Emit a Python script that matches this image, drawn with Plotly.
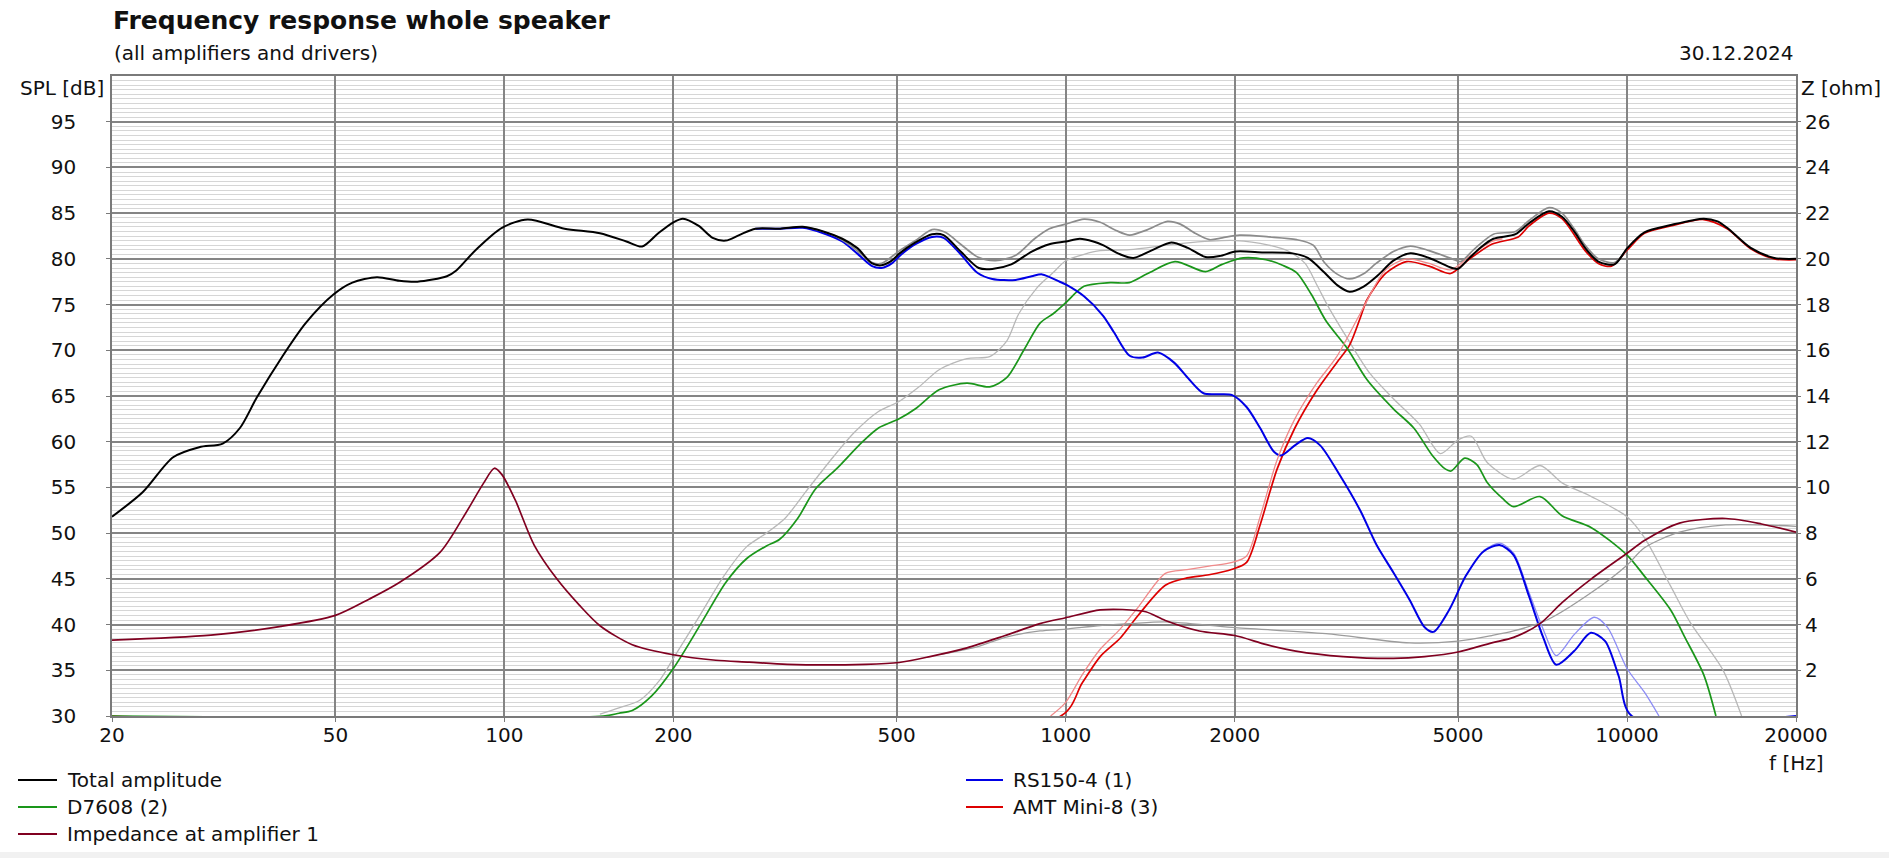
import math
import plotly.graph_objects as go

# ---------------- data ----------------
total_f = [20, 22.7, 25.7, 28.6, 31.5, 33.8, 36.2, 40.2, 44.3, 49.6, 53.6, 59.3, 65, 70, 79, 82, 89, 99,
           110, 128, 148, 165, 176, 188, 200, 208, 222, 235, 248, 262, 280, 310, 340, 370, 400, 425,
           452, 470, 490, 506, 540, 578, 606, 650, 700, 740, 800, 870, 935, 1000, 1060, 1120, 1165,
           1250, 1320, 1420, 1542, 1650, 1775, 1880, 2009, 2250, 2537, 2700, 2890, 3050, 3204, 3400,
           3600, 3835, 4112, 4440, 4880, 5000, 5220, 5500, 5780, 6330, 6690, 7260, 7660, 8050, 8420,
           8890, 9500, 10020, 10740, 11960, 13700, 14500, 15080, 16610, 18290, 20000]
total_db = [51.8, 54.5, 58.3, 59.4, 59.8, 61.5, 64.8, 69.3, 73.0, 76.1, 77.4, 78.0, 77.6, 77.5, 78.1,
            78.7, 81.0, 83.4, 84.3, 83.3, 82.8, 81.9, 81.35, 82.8, 84.0, 84.4, 83.6, 82.3, 82.0, 82.6,
            83.3, 83.3, 83.5, 83.0, 82.2, 81.2, 79.5, 79.3, 79.8, 80.6, 81.8, 82.7, 82.6, 80.8, 79.0,
            78.9, 79.4, 80.8, 81.6, 81.9, 82.2, 81.9, 81.5, 80.5, 80.1, 80.9, 81.8, 81.2, 80.2, 80.3,
            80.8, 80.7, 80.6, 80.1, 78.5, 77.1, 76.4, 77.0, 78.2, 79.8, 80.6, 80.1, 79.0, 78.9, 80.0,
            81.3, 82.2, 82.7, 83.9, 85.2, 84.6, 83.0, 81.2, 79.7, 79.4, 81.2, 82.9, 83.7, 84.4, 84.1,
            83.4, 81.2, 80.1, 80.0]

total_ref_f = [350, 385, 415, 452, 470, 506, 540, 578, 610, 650, 697, 750, 815, 880, 935, 1000, 1078,
               1152, 1230, 1300, 1400, 1518, 1600, 1700, 1803, 1900, 2042, 2300, 2578, 2760, 2890, 3050,
               3204, 3400, 3573, 3835, 4112, 4440, 4880, 5050, 5350, 5780, 6330, 6690, 7260, 7660, 8050,
               8420, 8890, 9500, 10020]
total_ref_db = [83.4, 82.6, 81.4, 79.6, 79.5, 80.9, 82.0, 83.2, 82.9, 81.6, 80.2, 79.8, 80.4, 82.2, 83.3,
                83.8, 84.35, 84.0, 83.1, 82.6, 83.2, 84.1, 83.8, 82.8, 82.1, 82.3, 82.6, 82.4, 82.1, 81.5,
                79.6, 78.3, 77.8, 78.4, 79.5, 80.8, 81.4, 80.9, 80.0, 79.7, 81.1, 82.7, 83.0, 84.2, 85.6,
                85.0, 83.3, 81.5, 80.0, 79.6, 81.2]

rs150_f = [280, 310, 340, 370, 400, 425, 452, 470, 490, 510, 540, 578, 606, 650, 697, 740, 814, 870, 908,
           976, 1000, 1078, 1165, 1218, 1300, 1370, 1460, 1560, 1660, 1760, 1880, 1980, 2100, 2220, 2350,
           2420, 2560, 2700, 2840, 3060, 3346, 3580, 3835, 4100, 4360, 4520, 4820, 5160, 5550, 5930, 6280,
           6690, 7090, 7480, 8050, 8620, 9140, 9660, 10200, 20000]
rs150_db = [83.3, 83.3, 83.4, 82.8, 81.9, 80.6, 79.2, 79.0, 79.5, 80.5, 81.6, 82.4, 82.3, 80.5, 78.45,
            77.8, 77.7, 78.1, 78.3, 77.5, 77.2, 75.9, 73.8, 72.0, 69.4, 69.2, 69.75, 68.65, 66.8, 65.3,
            65.2, 65.1, 63.8, 61.5, 58.9, 58.5, 59.6, 60.4, 59.6, 56.6, 52.5, 48.7, 45.7, 42.7, 39.7,
            39.2, 41.6, 45.3, 48.0, 48.7, 47.6, 43.1, 38.6, 35.6, 37.1, 39.1, 38.2, 34.4, 30.0, 30.0]

rs150_ref_f = [5550, 5930, 6280, 6690, 7090, 7480, 8050, 8740, 9230, 10000, 10740, 11400]
rs150_ref_db = [48.1, 48.9, 47.8, 43.5, 39.5, 36.6, 38.9, 40.8, 39.7, 35.2, 32.6, 30.0]

d7608_f = [20, 150, 160, 169, 183, 200, 224, 248, 270, 293, 309, 333, 358, 393, 433, 464, 505, 540, 596,
           667, 732, 785, 842, 901, 950, 1000, 1078, 1200, 1298, 1400, 1566, 1775, 1900, 2072, 2275, 2434,
           2578, 2740, 2910, 3175, 3440, 3835, 4170, 4500, 4750, 4860, 5140, 5400, 5640, 6000, 6280, 7000,
           7660, 8640, 10000, 10740, 11960, 12680, 13700, 14400]
d7608_db = [30.0, 30.0, 30.3, 30.6, 32.2, 35.2, 40.1, 44.6, 47.2, 48.6, 49.3, 51.6, 54.8, 57.2, 59.9,
            61.5, 62.5, 63.6, 65.7, 66.4, 66.0, 67.0, 70.0, 73.0, 74.0, 75.2, 77.0, 77.4, 77.4, 78.4,
            79.7, 78.6, 79.4, 80.1, 79.9, 79.3, 78.5, 76.1, 73.2, 70.2, 66.8, 63.6, 61.5, 58.5, 57.0,
            56.8, 58.2, 57.5, 55.5, 53.8, 52.9, 54.0, 51.9, 50.6, 47.6, 45.3, 41.6, 38.6, 34.5, 30.0]

d7608_ref_f = [148, 160, 174, 189, 200, 224, 246, 270, 293, 316, 345, 385, 420, 464, 505, 548, 596, 667,
               732, 785, 825, 888, 950, 1000, 1078, 1152, 1300, 1615, 2009, 2300, 2500, 2670, 2810, 2934,
               3175, 3480, 3835, 4270, 4650, 5000, 5280, 5640, 6280, 7000, 7660, 8640, 10000, 10740,
               11960, 13000, 14800, 16000]
d7608_ref_db = [30.2, 30.9, 31.7, 33.9, 36.3, 41.2, 45.3, 48.5, 50.0, 51.6, 54.6, 58.3, 61.0, 63.3, 64.4,
                66.0, 67.9, 69.1, 69.3, 71.0, 74.0, 76.8, 78.5, 79.8, 80.5, 80.9, 81.0, 81.7, 82.0, 81.5,
                80.8, 79.5, 77.0, 74.8, 71.3, 67.5, 64.7, 61.9, 58.7, 60.2, 60.6, 57.7, 55.9, 57.4, 55.5,
                54.0, 51.8, 49.5, 44.2, 40.1, 35.1, 30.0]

amt_f = [20, 980, 1070, 1152, 1250, 1350, 1505, 1645, 1800, 1980, 2100, 2220, 2380, 2560, 2800, 3040,
         3200, 3346, 3440, 3715, 4050, 4440, 4850, 5220, 5740, 6400, 6690, 7260, 7660, 8420, 8890, 9380,
         10020, 10740, 11960, 13700, 15080, 16610, 18290, 20000]
amt_db = [30.0, 30.0, 33.6, 36.5, 38.5, 41.1, 44.3, 45.1, 45.45, 46.05, 46.8, 50.9, 57.0, 61.5, 65.6,
          68.65, 70.5, 73.5, 75.5, 78.4, 79.7, 79.2, 78.4, 79.9, 81.6, 82.4, 83.6, 85.0, 84.4, 80.9,
          79.5, 79.2, 81.0, 82.8, 83.6, 84.3, 83.3, 81.1, 80.0, 79.9]

amt_ref_f = [940, 1000, 1070, 1152, 1250, 1350, 1505, 1645, 1800, 1980, 2100, 2220, 2380, 2560, 2800,
             3040, 3346, 3715, 4050, 4440, 4850, 5220, 5740, 6000]
amt_ref_db = [30.0, 31.5, 34.5, 37.3, 39.5, 42.0, 45.6, 46.0, 46.4, 46.8, 47.5, 51.8, 58.0, 62.5, 66.4,
              69.3, 74.0, 78.8, 80.0, 79.5, 78.8, 80.2, 81.9, 82.2]

imp_f = [20, 30, 40, 50, 57.5, 65, 76.8, 84.4, 91.9, 96, 99, 104.6, 113, 124, 136, 148, 169, 200, 238,
         273, 319, 440, 505, 573, 667, 780, 900, 1000, 1152, 1263, 1389, 1505, 1730, 2000, 2280, 2570,
         3120, 3835, 4360, 5000, 5740, 6280, 7000, 7660, 8640, 10000, 10740, 12400, 15000, 17360, 20000]
imp_ohm = [3.32, 3.54, 3.92, 4.4, 5.12, 5.84, 7.16, 8.68, 10.2, 10.84, 10.56, 9.44, 7.48, 6.0, 4.85,
           3.95, 3.12, 2.68, 2.44, 2.36, 2.26, 2.26, 2.34, 2.6, 2.98, 3.52, 4.04, 4.3, 4.64, 4.66, 4.56,
           4.18, 3.72, 3.52, 3.12, 2.84, 2.6, 2.52, 2.6, 2.8, 3.2, 3.44, 4.04, 4.96, 6.0, 7.12, 7.68,
           8.44, 8.64, 8.4, 8.04]

imp_ref_f = [600, 700, 780, 900, 1000, 1152, 1300, 1505, 1980, 2910, 4100, 5000, 5740, 6280, 7200, 8640,
             10000, 10740, 12400, 15000, 20000]
imp_ref_ohm = [2.7, 3.05, 3.44, 3.72, 3.8, 3.96, 4.04, 4.12, 3.88, 3.6, 3.2, 3.28, 3.52, 3.72, 4.2, 5.4,
               6.6, 7.36, 8.04, 8.36, 8.3]

x_major = [20, 50, 100, 200, 500, 1000, 2000, 5000, 10000, 20000]
x_major_text = ["20", "50", "100", "200", "500", "1000", "2000", "5000", "10000", "20000"]
x_minor = [30, 40, 60, 70, 80, 90, 150, 300, 400, 600, 700, 800, 900, 1500, 3000, 4000, 6000, 7000,
           8000, 9000, 15000]
spl_ticks = [30, 35, 40, 45, 50, 55, 60, 65, 70, 75, 80, 85, 90, 95]
z_ticks = [2, 4, 6, 8, 10, 12, 14, 16, 18, 20, 22, 24, 26]

legend_items = [
    ("Total amplitude", "#000000", 0, 0),
    ("D7608 (2)", "#1a961a", 0, 1),
    ("Impedance at amplifier 1", "#800020", 0, 2),
    ("RS150-4 (1)", "#0000e6", 1, 0),
    ("AMT Mini-8 (3)", "#dd0000", 1, 1),
]

# ---------------- layout geometry (pixels) ----------------
W, H = 1889, 858
L, R, T, B = 112, 1796, 76, 716
FONT = "DejaVu Sans"
TXT = "#111111"
GRID_MAJOR = "#858585"


def px(x):
    return (x - L) / (R - L)


def py(y):
    return (B - y) / (B - T)


fig = go.Figure()


def add(f, v, color, width, axis="y"):
    fig.add_trace(go.Scatter(x=f, y=v, mode="lines", yaxis=axis,
                             line=dict(color=color, width=width, shape="spline", smoothing=0.8),
                             showlegend=False, hoverinfo="skip"))


add(imp_ref_f, imp_ref_ohm, "#9c9c9c", 1.3, "y2")
add(imp_f, imp_ohm, "#800020", 1.7, "y2")
add(d7608_ref_f, d7608_ref_db, "#b8b8b8", 1.3)
add(amt_f, amt_db, "#dd0000", 1.7)
add(d7608_f, d7608_db, "#1a961a", 1.7)
add(rs150_ref_f, rs150_ref_db, "#8c8cf5", 1.3)
add(rs150_f, rs150_db, "#0000e6", 2.0)
add(amt_ref_f, amt_ref_db, "#f08a8a", 1.3)
add(total_ref_f, total_ref_db, "#8c8c8c", 1.7)
add(total_f, total_db, "#000000", 2.0)

shapes = []
annotations = []

# minor vertical grid lines (log axis: shape coordinates in log10)
for fv in x_minor:
    lx = math.log10(fv)
    shapes.append(dict(type="line", xref="x", yref="paper", x0=lx, x1=lx, y0=0, y1=1,
                       line=dict(color="#d2d2d2", width=1), layer="below"))

# legend (drawn manually, two columns)
col_x = [(18, 57, 65), (966, 1003, 1011)]
row_y = [780, 807, 834]
for label, color, col, row in legend_items:
    x0, x1, xt = col_x[col]
    y = row_y[row]
    shapes.append(dict(type="line", xref="paper", yref="paper", x0=px(x0), x1=px(x1),
                       y0=py(y), y1=py(y), line=dict(color=color, width=2)))
    annotations.append(dict(text=label, xref="paper", yref="paper", x=px(xt), y=py(y),
                            xanchor="left", yanchor="middle", showarrow=False,
                            font=dict(family=FONT, size=20, color=TXT)))

# bottom light strip
shapes.append(dict(type="rect", xref="paper", yref="paper", x0=px(0), x1=px(W), y0=py(H), y1=py(852),
                   fillcolor="#f1f1f1", line=dict(width=0), layer="below"))

annotations += [
    dict(text="<b>Frequency response whole speaker</b>", xref="paper", yref="paper", x=px(111),
         y=py(20), xanchor="left", yanchor="middle", showarrow=False,
         font=dict(family=FONT, size=25, color=TXT)),
    dict(text="(all amplifiers and drivers)", xref="paper", yref="paper", x=px(112), y=py(53),
         xanchor="left", yanchor="middle", showarrow=False, font=dict(family=FONT, size=20, color=TXT)),
    dict(text="30.12.2024", xref="paper", yref="paper", x=px(1796), y=py(53), xanchor="right",
         yanchor="middle", showarrow=False, font=dict(family=FONT, size=20, color=TXT)),
    dict(text="SPL [dB]", xref="paper", yref="paper", x=px(106), y=py(88), xanchor="right",
         yanchor="middle", showarrow=False, font=dict(family=FONT, size=20, color=TXT)),
    dict(text="Z [ohm]", xref="paper", yref="paper", x=px(1799), y=py(88), xanchor="left",
         yanchor="middle", showarrow=False, font=dict(family=FONT, size=20, color=TXT)),
    dict(text="f [Hz]", xref="paper", yref="paper", x=px(1796), y=py(763), xanchor="center",
         yanchor="middle", showarrow=False, font=dict(family=FONT, size=20, color=TXT)),
]

fig.update_layout(
    width=W, height=H, autosize=False,
    margin=dict(l=L, r=W - R, t=T, b=H - B, pad=0),
    paper_bgcolor="white", plot_bgcolor="white",
    font=dict(family=FONT, size=20, color=TXT),
    showlegend=False,
    shapes=shapes, annotations=annotations,
    xaxis=dict(type="log", range=[math.log10(20), math.log10(20000)], tickmode="array",
               tickvals=x_major, ticktext=x_major_text, showgrid=True, gridcolor=GRID_MAJOR,
               gridwidth=1.5, ticks="outside", ticklen=4, tickcolor="#7a7a7a", showline=True,
               mirror=True, linecolor="#7a7a7a", linewidth=1.5, zeroline=False, ticklabelstandoff=-4,
               tickfont=dict(family=FONT, size=20, color=TXT)),
    yaxis=dict(range=[30, 100], tickmode="array", tickvals=spl_ticks, showgrid=True,
               gridcolor=GRID_MAJOR, gridwidth=1.5,
               minor=dict(dtick=0.5, tick0=30, showgrid=True, gridcolor="#d6d6d6", gridwidth=1, ticks=""),
               ticks="outside", ticklen=4, tickcolor="#7a7a7a", showline=True, mirror=True,
               linecolor="#7a7a7a", linewidth=1.5, zeroline=False, ticklabelstandoff=26,
               tickfont=dict(family=FONT, size=20, color=TXT)),
    yaxis2=dict(range=[0, 28], overlaying="y", side="right", tickmode="array", tickvals=z_ticks,
                showgrid=False, zeroline=False, ticks="outside", ticklen=4, tickcolor="#7a7a7a",
                showline=False, ticklabelstandoff=0, tickfont=dict(family=FONT, size=20, color=TXT)),
)

fig.write_html("out.html", config={"displayModeBar": False},
               post_script="document.body.style.margin='0';")
